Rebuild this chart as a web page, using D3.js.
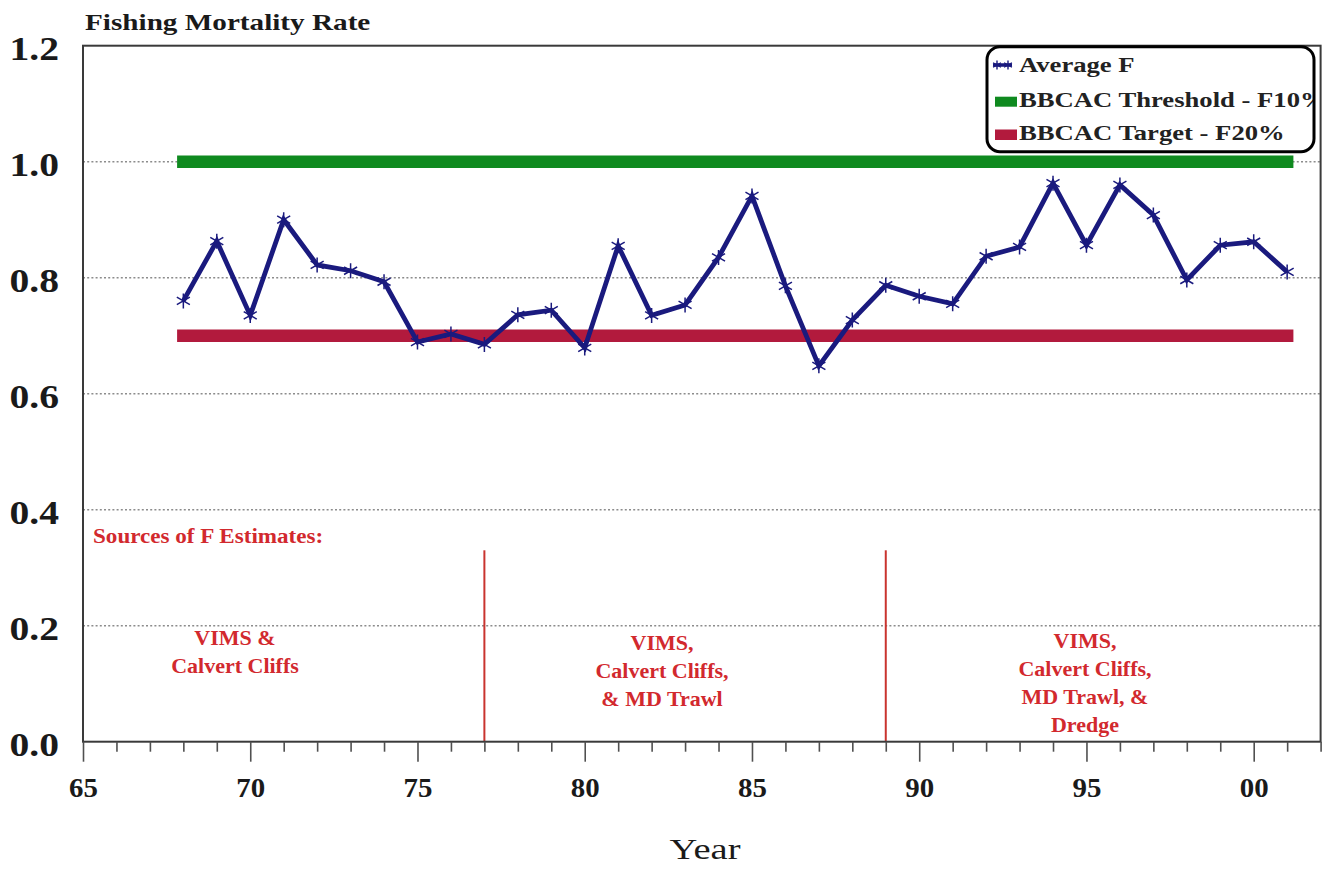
<!DOCTYPE html>
<html><head><meta charset="utf-8">
<script src="https://cdn.jsdelivr.net/npm/d3@7/dist/d3.min.js"></script>
<style>body{margin:0;background:#fff}svg{display:block}</style>
</head><body><svg id="c" width="1331" height="869"></svg>
<script>
// ---------- data ----------
const years = [68,69,70,71,72,73,74,75,76,77,78,79,80,81,82,83,84,85,86,87,88,89,90,91,92,93,94,95,96,97,98,99,100,101];
const averageF = [0.760,0.863,0.735,0.900,0.822,0.812,0.793,0.689,0.703,0.685,0.736,0.744,0.679,0.855,0.735,0.753,0.835,0.941,0.786,0.648,0.727,0.787,0.768,0.755,0.837,0.853,0.963,0.856,0.960,0.908,0.796,0.856,0.862,0.810];
const thresholdF = 1.0;
const targetF = 0.7;
const refStartYear = 68, refEndYear = 101;
const sourceChangeYears = [77, 89];
const sourceLineTop = 0.33;
const yTicks = [0.0, 0.2, 0.4, 0.6, 0.8, 1.0, 1.2];
const xMajorTicks = [65, 70, 75, 80, 85, 90, 95, 100];
const xTickLabels = ["65", "70", "75", "80", "85", "90", "95", "00"];
const legendLabels = ["Average F", "BBCAC Threshold - F10%", "BBCAC Target - F20%"];
const titleText = "Fishing Mortality Rate";
const xTitle = "Year";
const sourcesTitle = "Sources of F Estimates:";
const sourceGroups = [
  ["VIMS &", "Calvert Cliffs"],
  ["VIMS,", "Calvert Cliffs,", "& MD Trawl"],
  ["VIMS,", "Calvert Cliffs,", "MD Trawl, &", "Dredge"]
];

// ---------- styles ----------
const serif = "'Liberation Serif','Times New Roman',Times,serif";
const NAVY = "#1a1a7e", GREEN = "#0f8a1f", CRIMSON = "#b21a3d", ANN = "#d2292e", VLINE = "#c9342f";

const svg = d3.select("#c");
const x = d3.scaleLinear().domain([65, 102]).range([83, 1320.6]);
const y = d3.scaleLinear().domain([0, 1.2]).range([741.7, 45.7]);

function stretchedText(sel, tx, ty, sx, txt, size, weight, fill, anchor) {
  return sel.append("text")
    .attr("transform", `translate(${tx},${ty}) scale(${sx},1)`)
    .attr("font-family", serif).attr("font-size", size).attr("font-weight", weight)
    .attr("fill", fill).attr("text-anchor", anchor || "start").text(txt);
}

// gridlines
svg.append("g").selectAll("line").data(yTicks.filter(v => v > 0 && v < 1.2)).join("line")
  .attr("x1", x(65)).attr("x2", x(102)).attr("y1", d => y(d)).attr("y2", d => y(d))
  .attr("stroke", "#8c8c8c").attr("stroke-width", 1.5).attr("stroke-dasharray", "2,2.2");

// reference lines
[[thresholdF, GREEN], [targetF, CRIMSON]].forEach(([v, c]) => {
  svg.append("line").attr("x1", x(refStartYear)).attr("x2", x(refEndYear))
    .attr("y1", y(v)).attr("y2", y(v)).attr("stroke", c).attr("stroke-width", 12.5)
    .attr("stroke-linecap", "square");
});

// source change vertical lines
svg.append("g").selectAll("line").data(sourceChangeYears).join("line")
  .attr("x1", d => x(d)).attr("x2", d => x(d)).attr("y1", y(0)).attr("y2", y(sourceLineTop))
  .attr("stroke", VLINE).attr("stroke-width", 2);

// annotations
stretchedText(svg, 93, 543, 1.05, sourcesTitle, 22, "bold", ANN, "start");
const groupPos = [[235, 645], [662, 650], [1085, 648]];
sourceGroups.forEach((lines, gi) => {
  lines.forEach((t, li) => {
    stretchedText(svg, groupPos[gi][0], groupPos[gi][1] + li * 28, 1.0, t, 22, "bold", ANN, "middle");
  });
});

// data line
const pts = years.map((yr, i) => ({ yr, f: averageF[i] }));
svg.append("path").datum(pts)
  .attr("d", d3.line().x(d => x(d.yr)).y(d => y(d.f)))
  .attr("fill", "none").attr("stroke", NAVY).attr("stroke-width", 4.8).attr("stroke-linejoin", "miter");
const star = r => `M0,${-r}V${r}M${-r*0.87},${-r*0.5}L${r*0.87},${r*0.5}M${-r*0.87},${r*0.5}L${r*0.87},${-r*0.5}`;
svg.append("g").selectAll("path").data(pts).join("path")
  .attr("transform", d => `translate(${x(d.yr)},${y(d.f)})`)
  .attr("d", star(7.5)).attr("fill", "none").attr("stroke", NAVY).attr("stroke-width", 1.5);

// frame
svg.append("rect").attr("x", x(65)).attr("y", y(1.2))
  .attr("width", x(102) - x(65)).attr("height", y(0) - y(1.2))
  .attr("fill", "none").attr("stroke", "#3a3a3a").attr("stroke-width", 2);

// x axis
const xAxis = svg.append("g").attr("transform", `translate(0,${y(0)})`)
  .call(d3.axisBottom(x).tickValues(d3.range(65, 103)).tickSize(10)
    .tickFormat(d => { const k = xMajorTicks.indexOf(d); return k >= 0 ? xTickLabels[k] : ""; }));
xAxis.select(".domain").remove();
xAxis.selectAll(".tick line").attr("stroke", "#505050").attr("stroke-width", 1.6)
  .attr("y2", d => xMajorTicks.includes(d) ? 20 : 10);
xAxis.selectAll(".tick text").attr("y", 0).attr("dy", 0)
  .attr("transform", "translate(0,55) scale(1.07,1)")
  .attr("font-family", serif).attr("font-size", 27).attr("font-weight", "bold").attr("fill", "#1a1a1a");

// y axis
const ySx = 1.2;
const yAxis = svg.append("g").attr("transform", `translate(${x(65)},0)`)
  .call(d3.axisLeft(y).tickValues(yTicks).tickSize(0).tickFormat(d3.format(".1f")));
yAxis.select(".domain").remove();
yAxis.selectAll(".tick text").attr("x", 0).attr("dy", "0.36em")
  .attr("transform", `translate(-24,2) scale(${ySx},1)`)
  .attr("font-family", serif).attr("font-size", 33).attr("font-weight", "bold").attr("fill", "#1a1a1a");

// titles
stretchedText(svg, 85, 29.5, 1.27, titleText, 23, "bold", "#1a1a1a", "start");
stretchedText(svg, 705, 859, 1.33, xTitle, 29, "normal", "#1a1a1a", "middle");

// legend
const lg = svg.append("g");
const lb = { x: 987, y: 46.7, w: 327, h: 105 };
lg.append("clipPath").attr("id", "lgclip").append("rect")
  .attr("x", lb.x).attr("y", lb.y).attr("width", lb.w).attr("height", lb.h).attr("rx", 13);
lg.append("rect").attr("x", lb.x).attr("y", lb.y).attr("width", lb.w).attr("height", lb.h)
  .attr("rx", 13).attr("fill", "#fff");
const lc = lg.append("g").attr("clip-path", "url(#lgclip)");
const rowBase = [72.3, 107, 140];
lc.append("line").attr("x1", 993).attr("x2", 1012).attr("y1", 65).attr("y2", 65)
  .attr("stroke", NAVY).attr("stroke-width", 3.5);
[997, 1008].forEach(px => lc.append("path").attr("transform", `translate(${px},65)`)
  .attr("d", star(4.5)).attr("fill", "none").attr("stroke", NAVY).attr("stroke-width", 1.4));
lc.append("rect").attr("x", 995).attr("y", 96.7).attr("width", 22).attr("height", 10).attr("fill", GREEN);
lc.append("rect").attr("x", 995).attr("y", 129.5).attr("width", 22).attr("height", 10.5).attr("fill", CRIMSON);
legendLabels.forEach((t, i) => stretchedText(lc, 1019, rowBase[i], 1.3, t, 20.5, "bold", "#222", "start"));
lg.append("rect").attr("x", lb.x).attr("y", lb.y).attr("width", lb.w).attr("height", lb.h)
  .attr("rx", 13).attr("fill", "none").attr("stroke", "#000").attr("stroke-width", 3);
</script></body></html>
